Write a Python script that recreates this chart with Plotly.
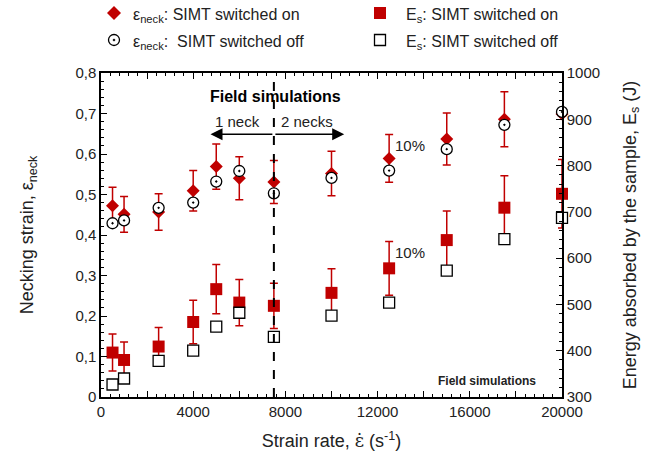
import plotly.graph_objects as go
from plotly.subplots import make_subplots

strain_rate = [500, 1000, 2500, 4000, 5000, 6000, 7500, 10000, 12500, 15000, 17500, 20000]
neck_on = [0.472, 0.451, 0.457, 0.509, 0.569, 0.540, 0.531, 0.552, 0.589, 0.637, 0.686, 0.699]
neck_on_err = [0.046, 0.044, 0.045, 0.050, 0.056, 0.053, 0.053, 0.055, 0.059, 0.064, 0.068, 0.0]
neck_off = [0.429, 0.436, 0.467, 0.480, 0.532, 0.558, 0.503, 0.541, 0.559, 0.612, 0.672, 0.704]
energy_on = [396, 380, 409, 462, 533, 504, 497, 525, 578, 639, 709, 739]
energy_on_err = [40, 39, 41, 47, 53, 50, 49, 52, 58, 63, 69, 74]
energy_off = [327, 340, 378, 400, 452, 482, 430, 476, 504, 573, 641, 687]

legend_labels = ["ε<sub>neck</sub>: SIMT switched on", "ε<sub>neck</sub>:  SIMT switched off",
                 "E<sub>s</sub>: SIMT switched on", "E<sub>s</sub>: SIMT switched off"]

x_tickvals = list(range(0, 20001, 2000))
x_ticktext = [str(v) if v % 4000 == 0 else "" for v in x_tickvals]
y_tickvals = [0, 0.1, 0.2, 0.3, 0.4, 0.5, 0.6, 0.7, 0.8]
y_ticktext = ["0", "0,1", "0,2", "0,3", "0,4", "0,5", "0,6", "0,7", "0,8"]

RED = "#c00000"
FONT = "Liberation Sans"
TXT = "#222"

fig = make_subplots(specs=[[{"secondary_y": True}]])

fig.add_trace(go.Scatter(
    x=strain_rate, y=neck_on, mode="markers", name=legend_labels[0], cliponaxis=False,
    marker=dict(symbol="diamond", size=10, color=RED, line=dict(width=0)),
    error_y=dict(type="data", array=neck_on_err, color=RED, thickness=1.5, width=4)),
    secondary_y=False)
fig.add_trace(go.Scatter(
    x=strain_rate, y=energy_on, mode="markers", name=legend_labels[2], cliponaxis=False,
    marker=dict(symbol="square", size=12, color=RED, line=dict(width=0)),
    error_y=dict(type="data", array=energy_on_err, color=RED, thickness=1.5, width=4)),
    secondary_y=True)
fig.add_trace(go.Scatter(
    x=strain_rate, y=neck_off, mode="markers", name=legend_labels[1], cliponaxis=False,
    marker=dict(symbol="circle-dot", size=11, color="white", line=dict(width=1.3, color="black"))),
    secondary_y=False)
fig.add_trace(go.Scatter(
    x=strain_rate, y=energy_off, mode="markers", name=legend_labels[3], cliponaxis=False,
    marker=dict(symbol="square", size=11, color="white", line=dict(width=1.3, color="black"))),
    secondary_y=True)

fig.add_shape(type="line", x0=7500, x1=7500, y0=0, y1=1, xref="x", yref="paper",
              line=dict(color="black", width=2, dash="dash"))

ann_font = dict(family=FONT, size=15, color=TXT)
fig.add_annotation(x=7550, y=0.741, text="<b>Field simulations</b>", showarrow=False,
                   font=dict(family=FONT, size=16, color="black"))
fig.add_annotation(x=5900, y=0.681, text="1 neck", showarrow=False, font=ann_font)
fig.add_annotation(x=8950, y=0.681, text="2 necks", showarrow=False, font=ann_font)
fig.add_annotation(x=4750, y=0.649, ax=7500, ay=0.649, axref="x", ayref="y", xref="x", yref="y",
                   text="", showarrow=True, arrowhead=2, arrowsize=1.6, arrowwidth=1.5, arrowcolor="black")
fig.add_annotation(x=10550, y=0.649, ax=7500, ay=0.649, axref="x", ayref="y", xref="x", yref="y",
                   text="", showarrow=True, arrowhead=2, arrowsize=1.6, arrowwidth=1.5, arrowcolor="black")
fig.add_annotation(x=13400, y=0.622, text="10%", showarrow=False, font=ann_font)
fig.add_annotation(x=13400, y=0.358, text="10%", showarrow=False, font=ann_font)
fig.add_annotation(x=16750, y=0.04, text="<b>Field simulations</b>", showarrow=False,
                   font=dict(family=FONT, size=12, color=TXT))

# manual legend (paper coordinates; plot area spans px 101-562 x, 73-397 y)
def px_x(p):
    return (p - 101) / 461.0

def px_y(p):
    return (397 - p) / 324.0

leg_rows = [13, 40]
leg_cols_marker = [114, 380]
leg_cols_text = [131, 404]
leg_font = dict(family=FONT, size=16, color=TXT)
for col, row, lab in [(0, 0, legend_labels[0]), (0, 1, legend_labels[1]),
                      (1, 0, legend_labels[2]), (1, 1, legend_labels[3])]:
    fig.add_annotation(x=px_x(leg_cols_text[col]), y=px_y(leg_rows[row] + 2), xref="paper", yref="paper",
                       text=lab, showarrow=False, xanchor="left", yanchor="middle", font=leg_font)

def pix_shape(**kw):
    fig.add_shape(xref="paper", yref="paper", xsizemode="pixel", ysizemode="pixel", **kw)

pix_shape(type="path", xanchor=px_x(leg_cols_marker[0]), yanchor=px_y(leg_rows[0]),
          path="M0,-7 L7,0 L0,7 L-7,0 Z", fillcolor=RED, line=dict(width=0))
pix_shape(type="circle", xanchor=px_x(leg_cols_marker[0]), yanchor=px_y(leg_rows[1]),
          x0=-5.5, x1=5.5, y0=-5.5, y1=5.5, fillcolor="white", line=dict(color="black", width=1.3))
pix_shape(type="circle", xanchor=px_x(leg_cols_marker[0]), yanchor=px_y(leg_rows[1]),
          x0=-1, x1=1, y0=-1, y1=1, fillcolor="black", line=dict(color="black", width=0.5))
pix_shape(type="rect", xanchor=px_x(leg_cols_marker[1]), yanchor=px_y(leg_rows[0]),
          x0=-6, x1=6, y0=-6, y1=6, fillcolor=RED, line=dict(width=0))
pix_shape(type="rect", xanchor=px_x(leg_cols_marker[1]), yanchor=px_y(leg_rows[1]),
          x0=-5.5, x1=5.5, y0=-5.5, y1=5.5, fillcolor="white", line=dict(color="black", width=1.3))

axis_common = dict(showline=True, linecolor="black", linewidth=1.5, ticks="inside",
                   ticklen=6, tickwidth=1.2, tickcolor="black", showgrid=False, zeroline=False,
                   automargin=False, tickfont=dict(family=FONT, size=15, color=TXT))

xtitle = 'Strain rate, <span style="font-family:DejaVu Serif">ε̇</span> (s<sup>-1</sup>)'
fig.update_xaxes(range=[0, 20000], tickvals=x_tickvals, ticktext=x_ticktext, mirror="ticks",
                 domain=[0, 1],
                 minor=dict(ticks="inside", ticklen=3, dtick=400, tickcolor="black", tickwidth=1),
                 title=dict(text=xtitle, font=dict(family=FONT, size=18, color=TXT), standoff=16),
                 **axis_common)
fig.update_yaxes(range=[0, 0.8], tickvals=y_tickvals, ticktext=y_ticktext, secondary_y=False,
                 minor=dict(ticks="inside", ticklen=3, dtick=0.02, tickcolor="black", tickwidth=1),
                 title=dict(text="Necking strain, ε<sub>neck</sub>", font=dict(family=FONT, size=18, color=TXT),
                            standoff=37),
                 **axis_common)
fig.update_yaxes(range=[300, 1000], dtick=100, secondary_y=True,
                 minor=dict(ticks="inside", ticklen=3, dtick=20, tickcolor="black", tickwidth=1),
                 title=dict(text="Energy absorbed by the sample, E<sub>s</sub> (J)",
                            font=dict(family=FONT, size=18, color=TXT), standoff=24),
                 **axis_common)

fig.update_layout(
    width=668, height=460, margin=dict(l=101, r=106, t=73, b=63),
    paper_bgcolor="white", plot_bgcolor="white",
    font=dict(family=FONT, size=15, color=TXT),
    showlegend=False,
)

fig.write_html("out.html")
